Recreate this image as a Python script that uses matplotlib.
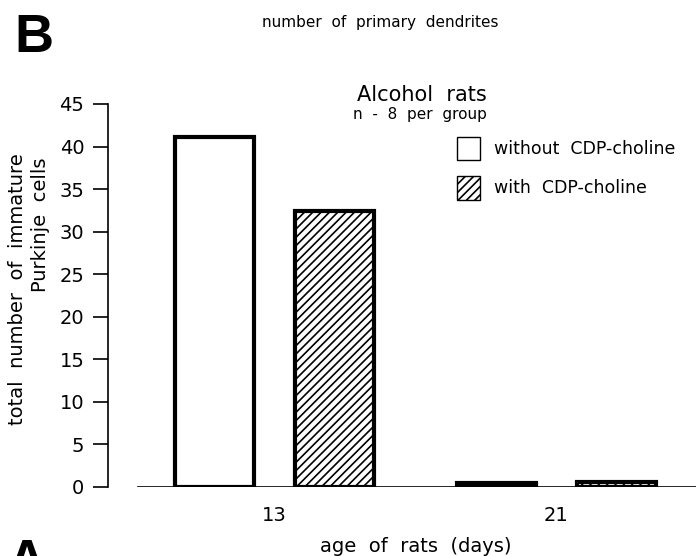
import matplotlib
matplotlib.use('Agg')
import matplotlib.pyplot as plt
from matplotlib.patches import Patch

plt.rcParams['font.family'] = 'DejaVu Sans'
plt.rcParams['hatch.linewidth'] = 1.2

# data
ages = ['13', '21']
without_cdp = [41.1, 0.5]
with_cdp = [32.4, 0.6]
series_labels = ['without  CDP-choline', 'with  CDP-choline']
yticks = [0, 5, 10, 15, 20, 25, 30, 35, 40, 45]

W, H = 696, 556
fig = plt.figure(figsize=(W / 100, H / 100), dpi=100)
ax = fig.add_axes([108 / W, 1 - 487 / H, 588 / W, 383 / H])

x = range(len(ages))
bw = 0.28
off = 0.213
ax.bar([i - off for i in x], without_cdp, width=bw, facecolor='white',
       edgecolor='black', linewidth=3, zorder=3)
ax.bar([i + off for i in x], with_cdp, width=bw, facecolor='white',
       edgecolor='black', linewidth=3, hatch='////', zorder=3)

ax.set_xlim(-0.589, 1.496)
ax.set_ylim(0, 45)
ax.axhline(0, xmin=30 / 588, xmax=1, color='black', linewidth=1.2, zorder=2)

for s in ['top', 'right', 'bottom']:
    ax.spines[s].set_visible(False)
ax.spines['left'].set_linewidth(1.2)
ax.set_yticks(yticks)
ax.tick_params(axis='y', direction='out', length=11, width=1.2,
               labelsize=14, pad=6)
ax.set_xticks(list(x))
ax.set_xticklabels(ages, fontsize=14)
ax.tick_params(axis='x', length=0, pad=14)

# texts
fig.text(14 / W, 1 - 13 / H, 'B', fontsize=39, fontweight='bold',
         family='Liberation Sans', va='top', ha='left')
fig.text(262 / W, 1 - 23 / H, 'number  of  primary  dendrites', fontsize=11,
         va='center', ha='left')
fig.text(422 / W, 1 - 95 / H, 'Alcohol  rats', fontsize=15,
         va='center', ha='center')
fig.text(420 / W, 1 - 115 / H, 'n  -  8  per  group', fontsize=11,
         va='center', ha='center')
fig.text(320 / W, 1 - 547 / H, 'age  of  rats  (days)', fontsize=14,
         va='center', ha='left')
fig.text(18 / W, 1 - 153 / H, 'total  number  of  immature', fontsize=14,
         rotation=90, va='top', ha='center')
fig.text(40 / W, 1 - 157 / H, 'Purkinje  cells', fontsize=14,
         rotation=90, va='top', ha='center')
fig.text(8 / W, 1 - 538 / H, 'A', fontsize=38, fontweight='bold',
         family='Liberation Sans', va='top', ha='left')

handles = [Patch(facecolor='white', edgecolor='black', linewidth=1),
           Patch(facecolor='white', edgecolor='black', linewidth=1,
                 hatch='////')]
fig.legend(handles, series_labels, loc='upper left',
           bbox_to_anchor=(457 / W, 1 - 137 / H), frameon=False,
           fontsize=12.5, handlelength=1.3, handleheight=1.7,
           handletextpad=0.85, labelspacing=0.9, borderpad=0,
           borderaxespad=0)

fig.savefig('out.png', dpi=100)
